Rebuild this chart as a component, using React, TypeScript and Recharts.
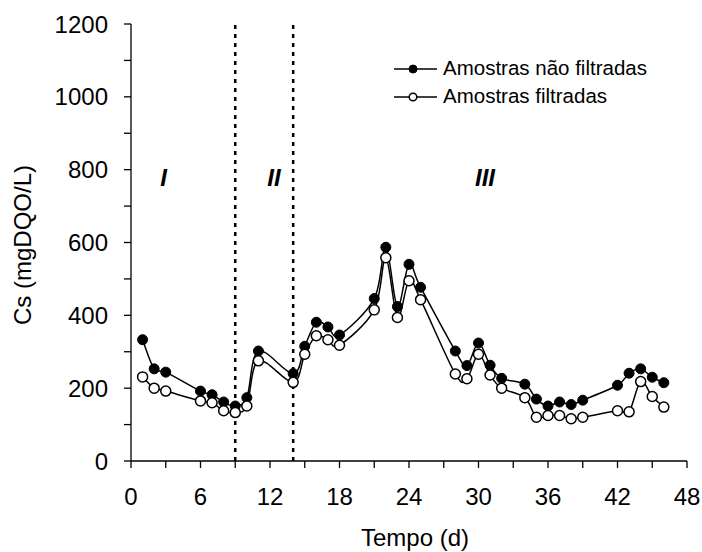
import React from 'react';
import { LineChart, Line, XAxis, YAxis, ReferenceLine } from 'recharts';

const days = [1, 2, 3, 6, 7, 8, 9, 10, 11, 14, 15, 16, 17, 18, 21, 22, 23, 24, 25, 28, 29, 30, 31, 32, 34, 35, 36, 37, 38, 39, 42, 43, 44, 45, 46];
const naoFiltradas = [333, 253, 244, 192, 182, 162, 151, 174, 302, 240, 315, 381, 368, 346, 446, 587, 424, 540, 477, 302, 262, 324, 263, 227, 211, 170, 151, 162, 155, 167, 208, 241, 253, 230, 215];
const filtradas = [231, 200, 192, 165, 160, 138, 133, 151, 275, 216, 293, 344, 333, 318, 415, 558, 394, 495, 443, 239, 226, 293, 236, 200, 174, 120, 125, 125, 116, 120, 138, 135, 218, 177, 148];

const xTicks = [0, 3, 6, 9, 12, 15, 18, 21, 24, 27, 30, 33, 36, 39, 42, 45, 48];
const yTicks = [0, 100, 200, 300, 400, 500, 600, 700, 800, 900, 1000, 1100, 1200];
const phaseBounds = [9, 14];
const xMax = 48;
const yMax = 1200;

const seriesNames = ['Amostras não filtradas', 'Amostras filtradas'];

const data = days.map((d, i) => ({ t: d, nf: naoFiltradas[i], f: filtradas[i] }));

const FONT = '"Liberation Sans", Arial, sans-serif';

// Excel-like smoothed curve (Catmull-Rom style Bezier)
const smoothCurve = (context: any) => {
  let pts: [number, number][] = [];
  return {
    areaStart() {},
    areaEnd() {},
    lineStart() {
      pts = [];
    },
    point(x: number, y: number) {
      pts.push([+x, +y]);
    },
    lineEnd() {
      if (!pts.length) return;
      context.moveTo(pts[0][0], pts[0][1]);
      for (let i = 0; i < pts.length - 1; i++) {
        const p0 = pts[i - 1] || pts[i];
        const p1 = pts[i];
        const p2 = pts[i + 1];
        const p3 = pts[i + 2] || p2;
        context.bezierCurveTo(
          p1[0] + (p2[0] - p0[0]) / 6,
          p1[1] + (p2[1] - p0[1]) / 6,
          p2[0] - (p3[0] - p1[0]) / 6,
          p2[1] - (p3[1] - p1[1]) / 6,
          p2[0],
          p2[1]
        );
      }
    },
  };
};

export default function App() {
  return (
    <div style={{ position: 'absolute', left: 0, top: 0, width: 702, height: 552, background: '#fff' }}>
      <LineChart
        width={702}
        height={552}
        data={data}
        margin={{ top: 24, right: 15, left: 0, bottom: 0 }}
        style={{ fontFamily: FONT }}
      >
        <XAxis
          dataKey="t"
          type="number"
          domain={[0, xMax]}
          ticks={xTicks}
          interval={0}
          height={91}
          tickSize={7}
          tickMargin={20}
          stroke="#000"
          strokeWidth={1.3}
          tickFormatter={(v: number) => (v % 6 === 0 ? String(v) : '')}
          tick={{ fontSize: 24, fill: '#000', fontFamily: FONT }}
          allowDataOverflow
        />
        <XAxis
          xAxisId="top"
          orientation="top"
          dataKey="t"
          type="number"
          domain={[0, xMax]}
          height={0}
          tick={false}
          tickLine={false}
          stroke="#000"
          strokeWidth={1.3}
          allowDataOverflow
        />
        <YAxis
          type="number"
          domain={[0, yMax]}
          ticks={yTicks}
          interval={0}
          width={131}
          tickSize={7}
          tickMargin={16}
          stroke="#000"
          strokeWidth={1.3}
          tickFormatter={(v: number) => (v % 200 === 0 ? String(v) : '')}
          tick={{ fontSize: 24, fill: '#000', fontFamily: FONT }}
          allowDataOverflow
        />
        <YAxis
          yAxisId="right"
          orientation="right"
          type="number"
          domain={[0, yMax]}
          width={0}
          tick={false}
          tickLine={false}
          stroke="#000"
          strokeWidth={1.3}
          allowDataOverflow
        />
        {phaseBounds.map((b) => (
          <ReferenceLine key={b} x={b} stroke="#000" strokeWidth={2.5} strokeDasharray="4 5" />
        ))}
        <Line
          dataKey="nf"
          name={seriesNames[0]}
          type={smoothCurve as any}
          stroke="#000"
          strokeWidth={1.5}
          dot={{ r: 5, fill: '#000', stroke: '#000', strokeWidth: 1 }}
          isAnimationActive={false}
        />
        <Line
          dataKey="f"
          name={seriesNames[1]}
          type={smoothCurve as any}
          stroke="#000"
          strokeWidth={1.5}
          dot={{ r: 5, fill: '#fff', stroke: '#000', strokeWidth: 1.5 }}
          isAnimationActive={false}
        />
      </LineChart>
      <svg
        width={702}
        height={552}
        style={{ position: 'absolute', left: 0, top: 0, pointerEvents: 'none', fontFamily: FONT }}
      >
        {/* legend */}
        <line x1={394} x2={437} y1={69} y2={69} stroke="#000" strokeWidth={1.5} />
        <circle cx={413} cy={69} r={4} fill="#000" stroke="#000" strokeWidth={1} />
        <text x={443} y={74.5} fontSize={20.5} fill="#000">{seriesNames[0]}</text>
        <line x1={394} x2={437} y1={97} y2={97} stroke="#000" strokeWidth={1.5} />
        <circle cx={413} cy={97} r={3.8} fill="#fff" stroke="#000" strokeWidth={1.5} />
        <text x={443} y={102.7} fontSize={20.5} fill="#000">{seriesNames[1]}</text>
        {/* phase labels */}
        <text x={163.5} y={186} fontSize={24} fontWeight="bold" fontStyle="italic" textAnchor="middle" fill="#000">I</text>
        <text x={274} y={186} fontSize={24} fontWeight="bold" fontStyle="italic" textAnchor="middle" fill="#000">II</text>
        <text x={485} y={186} fontSize={24} fontWeight="bold" fontStyle="italic" textAnchor="middle" fill="#000">III</text>
        {/* axis titles */}
        <text x={415} y={545.5} fontSize={24} textAnchor="middle" fill="#000">Tempo (d)</text>
        <text x={31} y={245} fontSize={24} textAnchor="middle" fill="#000" transform="rotate(-90, 31, 245)">Cs (mgDQO/L)</text>
      </svg>
    </div>
  );
}
